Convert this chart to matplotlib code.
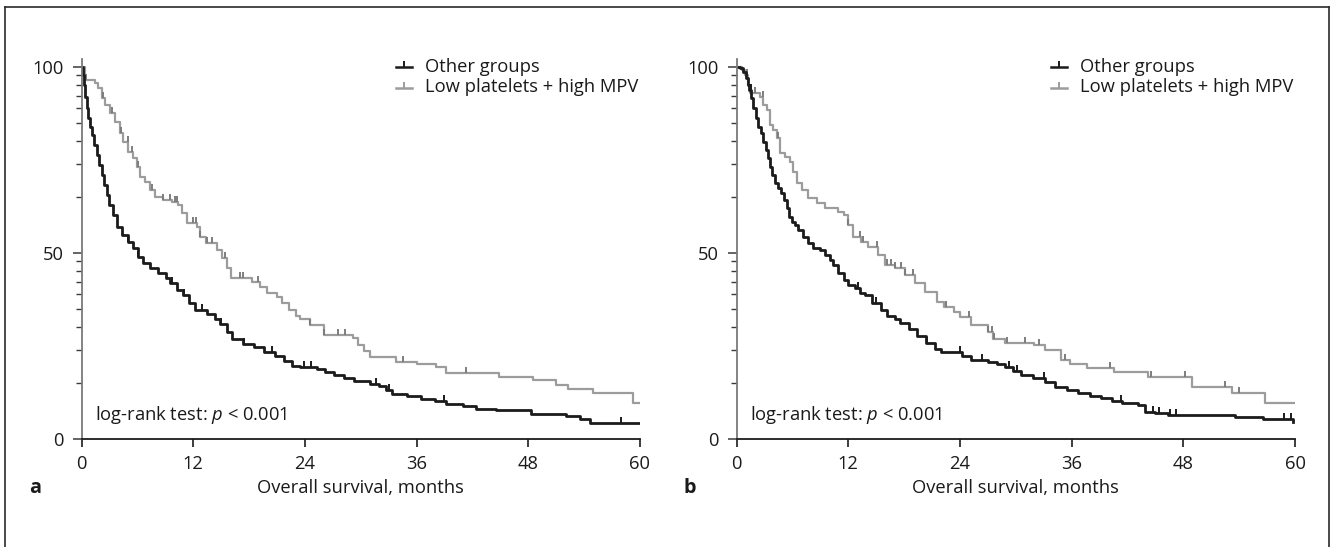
import numpy as np
import matplotlib
matplotlib.use("Agg")
import matplotlib.pyplot as plt
from matplotlib.lines import Line2D

# ---------------- data ----------------
# Panel a
a_other_t = [0, 0.11, 0.26, 0.40, 0.54, 0.72, 0.90, 1.08, 1.33, 1.62, 1.90, 2.16, 2.44, 2.69, 2.98,
             3.34, 3.77, 4.30, 5.00, 5.55, 6.10, 6.60, 7.35, 8.20, 9.10, 9.50, 10.2, 10.9, 11.5, 12.2,
             13.5, 14.3, 14.9, 15.6, 16.2, 17.3, 18.5, 19.6, 20.8, 21.7, 22.6, 23.5, 25.3, 26.2, 27.1,
             28.2, 29.3, 31.0, 32.0, 32.7, 33.4, 35.0, 36.5, 38.0, 39.2, 41.0, 42.4, 44.5, 47.8, 48.3,
             52.1, 53.5, 54.6, 60.0]
a_other_s = [100, 97.8, 95.1, 91.9, 88.8, 86.1, 83.9, 81.6, 79.0, 76.3, 73.6, 70.9, 68.2, 65.5, 62.8,
             60.1, 57.0, 54.8, 53.0, 51.2, 48.9, 47.2, 45.8, 44.5, 43.3, 41.8, 40.0, 38.6, 36.4, 34.6,
             33.6, 32.2, 30.8, 28.8, 26.8, 25.4, 24.6, 23.4, 22.3, 20.8, 19.6, 19.2, 18.7, 17.8, 17.0,
             16.2, 15.4, 14.8, 14.3, 13.2, 12.1, 11.6, 10.7, 10.1, 9.4, 8.8, 8.0, 7.8, 7.6, 6.6,
             6.0, 5.4, 4.3, 4.3]
a_other_cens = [0.2, 5.0, 6.1, 9.7, 11.0, 12.9, 15.0, 17.5, 20.5, 23.9, 24.7, 31.6, 33.0, 38.9, 58.0]

a_low_t = [0, 0.37, 1.44, 1.80, 2.16, 2.51, 3.05, 3.59, 4.12, 4.48, 5.02, 5.55, 5.92, 6.27, 6.81,
           7.35, 7.88, 8.78, 9.68, 10.4, 10.75, 11.3, 12.36, 12.7, 13.4, 14.5, 15.05, 15.6, 16.1,
           18.3, 19.2, 19.9, 21.0, 21.5, 22.3, 23.0, 23.5, 24.5, 26.0, 29.2, 29.7, 30.3, 31.0, 33.8,
           36.0, 38.1, 39.2, 44.9, 48.5, 51.0, 52.3, 55.0, 59.3, 60.0]
a_low_s = [100, 96.4, 95.5, 94.2, 91.5, 89.7, 87.5, 85.2, 82.1, 79.8, 77.2, 75.4, 73.1, 70.4, 69.1,
           66.9, 65.1, 64.2, 63.7, 62.8, 60.6, 57.9, 57.0, 54.3, 52.5, 50.7, 48.5, 45.8, 43.1,
           42.2, 40.9, 39.1, 38.2, 36.4, 34.5, 33.0, 32.1, 30.6, 27.9, 27.0, 25.2, 23.5, 22.0, 20.7,
           20.0, 19.4, 17.7, 16.7, 15.8, 14.4, 13.4, 12.2, 9.5, 9.5]
a_low_cens = [0.5, 2.3, 3.3, 4.2, 5.0, 5.4, 6.1, 7.6, 8.8, 9.5, 10.0, 10.3, 12.0, 12.3, 12.7, 13.5,
              14.0, 15.4, 17.0, 17.3, 19.0, 24.5, 26.0, 27.6, 28.3, 34.5, 41.3]

# Panel b
b_other_t = [0, 0.37, 0.72, 0.97, 1.19, 1.33, 1.55, 1.80, 2.05, 2.33, 2.62, 2.87, 3.12, 3.34, 3.59,
             3.84, 4.12, 4.41, 4.77, 5.12, 5.38, 5.63, 5.92, 6.27, 6.63, 7.17, 7.70, 8.24, 8.96, 9.50,
             10.0, 10.4, 10.9, 11.5, 12.0, 12.7, 13.25, 13.8, 14.5, 15.5, 16.2, 17.0, 17.6, 18.5, 19.4,
             20.4, 21.3, 22.0, 23.1, 24.2, 25.2, 27.0, 28.0, 28.8, 29.7, 30.6, 31.8, 33.1, 34.2, 35.5,
             36.7, 38.0, 39.2, 40.3, 41.4, 43.1, 43.9, 45.0, 46.4, 53.5, 56.6, 59.8]
b_other_s = [100, 99.6, 98.7, 96.9, 95.1, 93.7, 91.5, 88.8, 86.1, 83.9, 82.1, 79.8, 77.6, 75.4, 73.1,
             70.9, 68.7, 67.3, 66.0, 64.2, 61.9, 59.7, 58.3, 57.4, 56.1, 54.3, 52.5, 51.2, 50.7, 49.4,
             48.0, 46.7, 44.5, 42.7, 41.3, 40.4, 39.1, 38.6, 36.4, 34.5, 33.0, 32.2, 31.2, 29.5, 27.7,
             25.8, 24.1, 23.4, 23.2, 22.2, 21.2, 20.6, 20.0, 19.4, 18.3, 17.1, 16.3, 15.3, 14.0, 13.0,
             12.2, 11.5, 10.9, 10.2, 9.5, 9.1, 7.3, 6.8, 6.4, 5.9, 5.2, 4.6]
b_other_cens = [1.5, 13.0, 15.0, 20.5, 24.0, 26.4, 29.3, 30.1, 33.0, 41.3, 44.7, 45.4, 46.6, 47.2,
                58.8, 59.6]

b_low_t = [0, 0.54, 0.90, 1.26, 1.44, 2.51, 2.87, 3.23, 3.59, 3.94, 4.30, 4.66, 5.20, 5.74, 6.09,
           6.45, 6.99, 7.70, 8.60, 9.50, 10.9, 11.5, 12.0, 12.5, 13.4, 14.1, 15.2, 15.9, 17.0, 18.1,
           19.2, 20.2, 21.5, 22.3, 23.4, 24.0, 25.2, 27.0, 27.6, 28.8, 32.0, 33.1, 34.9, 35.8, 37.7,
           40.6, 44.2, 48.9, 53.2, 56.8, 60.0]
b_low_s = [100, 99.1, 97.8, 95.1, 92.8, 91.9, 89.7, 88.4, 84.3, 83.0, 80.8, 76.7, 75.8, 74.5, 71.8,
           68.7, 66.9, 64.6, 63.3, 61.9, 61.0, 60.1, 57.4, 54.3, 53.0, 51.6, 49.4, 46.7, 45.8, 44.0,
           41.8, 39.5, 36.8, 35.5, 34.1, 32.8, 30.6, 28.8, 26.7, 25.6, 25.2, 23.8, 21.2, 20.1, 18.9,
           18.0, 16.7, 13.8, 12.2, 9.7, 9.7]
b_low_cens = [1.1, 2.0, 2.8, 4.4, 12.0, 13.3, 13.6, 15.1, 16.2, 16.6, 17.0, 17.7, 18.1, 19.0, 22.5,
              25.0, 27.0, 27.4, 27.7, 29.1, 31.0, 32.5, 35.3, 40.1, 44.5, 48.2, 52.5, 54.0]

x_ticks = [0, 12, 24, 36, 48, 60]
y_ticks = [0, 50, 100]
series_labels = ["Other groups", "Low platelets + high MPV"]
x_label = "Overall survival, months"
test_text = "log-rank test: $p$ < 0.001"
panel_letters = ["a", "b"]

# ---------------- style ----------------
FONT = "Open Sans"
plt.rcParams["font.family"] = [FONT, "DejaVu Sans"]
plt.rcParams["mathtext.fontset"] = "custom"
plt.rcParams["mathtext.rm"] = FONT
plt.rcParams["mathtext.it"] = FONT + ":italic"
FS = 13.2
C_BLACK = "#1b1b1b"
C_GRAY = "#9c9c9c"
C_AXIS_Y = "#7a7a7a"

W, H = 1333, 547
fig = plt.figure(figsize=(W / 100, H / 100), dpi=100)

Y_TOP = 102.0
px_per_unit = 3.72
y0_px = 438.7
top_px = y0_px - Y_TOP * px_per_unit
ax_w_px = 558.4


def make_axes(x0_px):
    return fig.add_axes([x0_px / W, 1 - y0_px / H, ax_w_px / W, (y0_px - top_px) / H])


def step_value(t, s, tc):
    t = np.asarray(t)
    s = np.asarray(s)
    idx = np.searchsorted(t, tc, side="right") - 1
    idx = np.clip(idx, 0, len(s) - 1)
    return s[idx]


minor_pos = sorted({base + 50 * np.log10(k) for base in (0, 50) for k in range(2, 10)})

panels = [
    (81.6, a_other_t, a_other_s, a_other_cens, a_low_t, a_low_s, a_low_cens),
    (736.6, b_other_t, b_other_s, b_other_cens, b_low_t, b_low_s, b_low_cens),
]

MS, MEW = 4.0, 1.4

for i, (x0, ot, os_, oc, lt, ls, lc) in enumerate(panels):
    ax = make_axes(x0)
    ax.set_xlim(0, 60)
    ax.set_ylim(0, Y_TOP)

    # gray curve first, black on top
    ax.step(lt, ls, where="post", color=C_GRAY, lw=1.6)
    ax.plot(lc, step_value(lt, ls, lc), ls="none", marker=2, ms=MS, mew=MEW, color="#7d7d7d")
    ax.step(ot, os_, where="post", color=C_BLACK, lw=2.0)
    ax.plot(oc, step_value(ot, os_, oc), ls="none", marker=2, ms=MS, mew=MEW, color=C_BLACK)

    for s in ("top", "right"):
        ax.spines[s].set_visible(False)
    ax.spines["left"].set_color(C_AXIS_Y)
    ax.spines["left"].set_linewidth(1.3)
    ax.spines["bottom"].set_color(C_BLACK)
    ax.spines["bottom"].set_linewidth(1.3)

    ax.set_xticks(x_ticks)
    ax.set_xticklabels([str(v) for v in x_ticks])
    ax.set_yticks(y_ticks)
    ax.set_yticklabels([str(v) for v in y_ticks])
    ax.set_yticks(minor_pos, minor=True)
    ax.tick_params(axis="x", direction="out", length=5.5, width=1.2, color=C_BLACK,
                   labelsize=FS, pad=6.5, labelcolor=C_BLACK)
    ax.tick_params(axis="y", which="major", direction="out", length=6.5, width=1.1,
                   color="#3a3a3a", labelsize=FS, pad=6.5, labelcolor=C_BLACK)
    ax.tick_params(axis="y", which="minor", direction="out", length=4.5, width=1.0,
                   color="#3a3a3a")

    # legend (manual, axes fraction)
    ly = [(y0_px - 66.5) / (y0_px - top_px), (y0_px - 87.5) / (y0_px - top_px)]
    lx0, lx1, ltx = 314.4 / ax_w_px, 330.0 / ax_w_px, 343.4 / ax_w_px
    for yy, col, lab in zip(ly, [C_BLACK, C_GRAY], series_labels):
        ax.add_line(Line2D([lx0, lx1], [yy, yy], transform=ax.transAxes, color=col, lw=1.8,
                           clip_on=False))
        ax.add_line(Line2D([(lx0 + lx1) / 2], [yy], transform=ax.transAxes, color=col,
                           marker=2, ms=MS, mew=MEW, ls="none", clip_on=False))
        ax.text(ltx, yy, lab, transform=ax.transAxes, fontsize=FS, va="center", ha="left",
                color="#1a1a1a")

    ax.text(13.4 / ax_w_px, (y0_px - 415) / (y0_px - top_px), test_text,
            transform=ax.transAxes, fontsize=FS, va="center", ha="left", color="#1a1a1a")

    # x label & panel letter in figure pixels
    fig.text((x0 + ax_w_px / 2) / W, 1 - 488 / H, x_label, fontsize=FS, ha="center",
             va="center", color="#1a1a1a")
    fig.text((x0 - 46.6) / W, 1 - 488 / H, panel_letters[i], fontsize=FS + 1, ha="center",
             va="center", fontweight="bold", color="#1a1a1a")

# outer frame (left, top, right)
frame_kw = dict(transform=fig.transFigure, color="#2a2a2a", lw=1.2)
fig.add_artist(Line2D([4.5 / W, 4.5 / W], [0, 1 - 6.5 / H], **frame_kw))
fig.add_artist(Line2D([4.5 / W, 1329 / W], [1 - 6.5 / H, 1 - 6.5 / H], **frame_kw))
fig.add_artist(Line2D([1329 / W, 1329 / W], [0, 1 - 6.5 / H], **frame_kw))

fig.savefig("out.png", dpi=100)
